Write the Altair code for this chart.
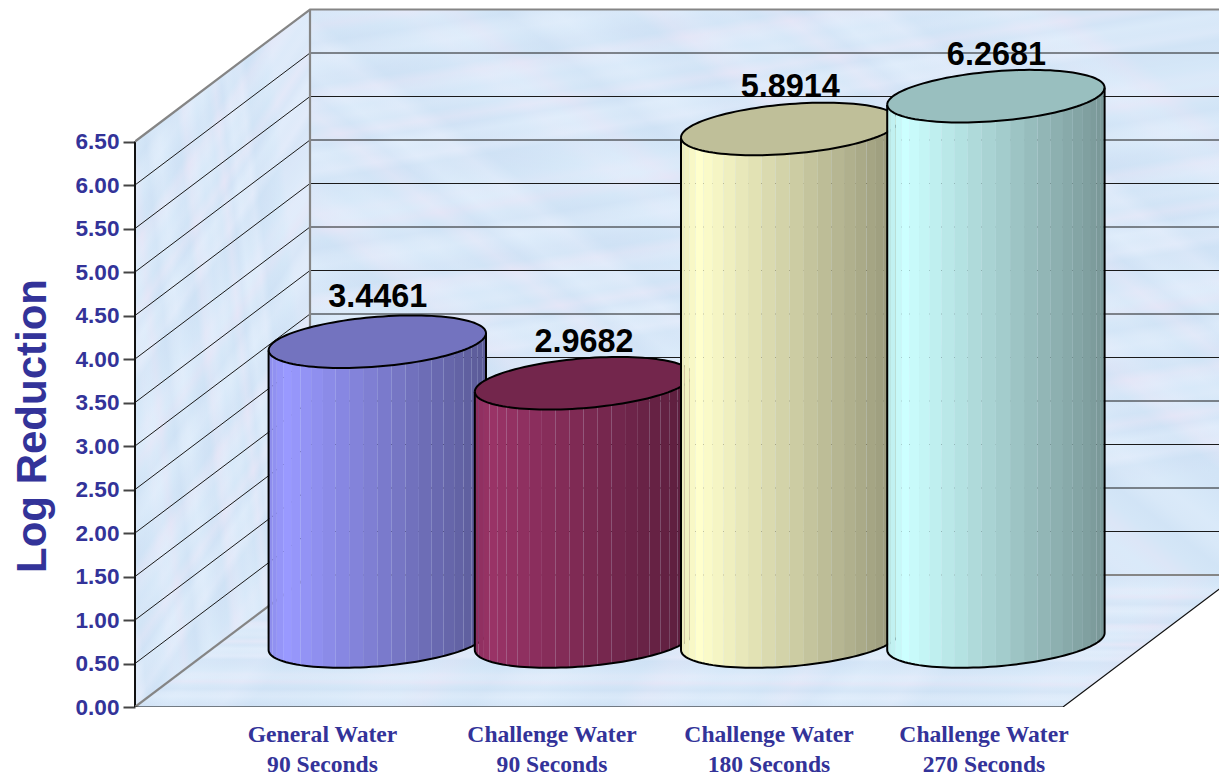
import math
import altair as alt
import pandas as pd

# ---- chart content ----
line1 = ["General Water", "Challenge Water", "Challenge Water", "Challenge Water"]
line2 = ["90 Seconds", "90 Seconds", "180 Seconds", "270 Seconds"]
values = [3.4461, 2.9682, 5.8914, 6.2681]
base_rgb = [(153, 153, 255), (153, 51, 102), (255, 255, 204), (204, 255, 255)]
ticks = [i * 0.5 for i in range(14)]

# ---- oblique 3-D projection, in scale units ----
PX = 87.0                 # pixels per value unit
W, H = 1084, 699
DX, DY = 175.0, 132.0 / PX  # depth of the box
FLOOR_W = 928.0
x_s = alt.Scale(domain=[0, W], nice=False, zero=False)
y_s = alt.Scale(domain=[0, H / PX], nice=False, zero=False)
INK = "#333399"
TEX = ["#d4e6f7", "#e2ebfa", "#d2e3f6", "#dceaf9", "#e4e6f7", "#d8e9f9", "#cfe2f5", "#e0edfb"]

CX0, CSTEP, A = 242.3, 206.2, 108.7
B, S = 24.9, 8.5
BASE = 65.5 / PX
LABEL_GAP = [34.3, 31.6, 32.0, 31.0]


def X():
    return alt.X("x:Q", scale=x_s, axis=None)


def Y():
    return alt.Y("y:Q", scale=y_s)


def rgb(c, f):
    return "#%02x%02x%02x" % tuple(min(255, round(v * f)) for v in c)


def shade(t):
    return 0.92 + t / 0.08 * 0.08 if t < 0.08 else 1.0 - (t - 0.08) / 0.92 * 0.41


def mottle(x1, y1, x2, y2, n, seed):
    """soft paper-like wall streaks"""
    stops = []
    for k in range(n + 1):
        c = TEX[(k * 5 + seed + (k * k) % 3) % len(TEX)]
        stops.append(alt.GradientStop(color=c, offset=k / n))
    return alt.Gradient(gradient="linear", x1=x1, y1=y1, x2=x2, y2=y2, stops=stops)


y_axis = alt.Axis(
    values=ticks, format=".2f", title="Log Reduction", domain=False, grid=False,
    tickSize=12, tickColor="#444444", tickWidth=2, labelPadding=4,
    labelFont="Liberation Sans", labelFontSize=22.6, labelFontWeight="bold", labelColor=INK,
    titleFont="Liberation Sans", titleFontSize=42, titleFontWeight="bold", titleColor=INK,
    titleX=-90, titleY=417.5, titleAngle=270, titleAlign="center", titleBaseline="alphabetic",
)

layers = []

# walls and floor
left = pd.DataFrame({"x": [0, DX], "y": [0, DY], "y2": [6.5, 6.5 + DY]})
back = pd.DataFrame({"x": [DX, W], "y": [DY, DY], "y2": [6.5 + DY, 6.5 + DY]})
floor = pd.DataFrame({"x": [0, DX, FLOOR_W, FLOOR_W + DX], "y": [0, 0, 0, DY], "y2": [0, DY, DY, DY]})
layers.append(alt.Chart(left).mark_area(color=mottle(0, 0.2, 0.3, 1, 46, 0), clip=True).encode(
    x=X(), y=alt.Y("y:Q", scale=y_s, axis=y_axis), y2="y2:Q"))
layers.append(alt.Chart(left).mark_area(color=mottle(0, 1, 1, 0.6, 30, 3), opacity=0.5, clip=True).encode(
    x=X(), y=Y(), y2="y2:Q"))
layers.append(alt.Chart(back).mark_area(color=mottle(0, 0, 0.25, 1, 70, 1), clip=True).encode(
    x=X(), y=Y(), y2="y2:Q"))
layers.append(alt.Chart(back).mark_area(color=mottle(0, 1, 1, 0.2, 60, 4), opacity=0.5, clip=True).encode(
    x=X(), y=Y(), y2="y2:Q"))
layers.append(alt.Chart(floor).mark_area(color=mottle(0.03, 0, 0, 1, 36, 2), clip=True).encode(
    x=X(), y=Y(), y2="y2:Q"))
layers.append(alt.Chart(floor).mark_area(color=mottle(0, 0, 1, 0.1, 40, 5), opacity=0.4, clip=True).encode(
    x=X(), y=Y(), y2="y2:Q"))

# left wall edge
axis_df = pd.DataFrame({"x": [0, 0], "y": [0, 6.5]})
layers.append(alt.Chart(axis_df).mark_line(color="#111111", strokeWidth=2).encode(x=X(), y=Y()))

# gridlines
grid = []
for v in ticks[1:-1]:
    grid += [dict(v=v, x=0, y=v), dict(v=v, x=DX, y=v + DY), dict(v=v, x=W, y=v + DY)]
layers.append(alt.Chart(pd.DataFrame(grid)).mark_line(color="#1a1a1a", strokeWidth=1, clip=True).encode(
    x=X(), y=Y(), detail="v:N"))

# heavy grey box edges
edges = [
    dict(k="a", o=0, x=0, y=6.5), dict(k="a", o=1, x=DX, y=6.5 + DY), dict(k="a", o=2, x=W, y=6.5 + DY),
    dict(k="b", o=0, x=DX, y=6.5 + DY), dict(k="b", o=1, x=DX, y=DY), dict(k="b", o=2, x=W, y=DY),
    dict(k="c", o=0, x=0, y=0), dict(k="c", o=1, x=DX, y=DY),
]
layers.append(alt.Chart(pd.DataFrame(edges)).mark_line(color="#858585", strokeWidth=2.2, clip=True).encode(
    x=X(), y=Y(), detail="k:N", order="o:Q"))
rim = [dict(o=0, x=0, y=0), dict(o=1, x=FLOOR_W, y=0), dict(o=2, x=FLOOR_W + DX, y=DY)]
layers.append(alt.Chart(pd.DataFrame(rim)).mark_line(color="#111111", strokeWidth=1.2, clip=True).encode(
    x=X(), y=Y(), order="o:Q"))

# cylinders
N = 24
for i, (val, col) in enumerate(zip(values, base_rgb)):
    cx = CX0 + CSTEP * i
    y_top, y_bot = BASE + val, BASE

    def front(th, level):
        return level - (S * math.cos(th) + B * math.sin(th)) / PX

    def xat(th):
        return cx - A * math.cos(th)

    # body facets
    rows = []
    for k in range(N):
        t0, t1 = math.pi * k / N, math.pi * (k + 1) / N
        f = rgb(col, shade((xat((t0 + t1) / 2) - (cx - A)) / (2 * A)))
        for t in (t0, t1):
            rows.append(dict(k=k, x=xat(t), y=front(t, y_top), y2=front(t, y_bot), fill=f))
    layers.append(alt.Chart(pd.DataFrame(rows)).mark_area().encode(
        x=X(), y=Y(), y2="y2:Q", color=alt.Color("fill:N", scale=None), detail="k:N"))

    # top cap
    m = 60
    cap = []
    for k in range(m + 1):
        t = math.pi * k / m
        mid = y_top - S * math.cos(t) / PX
        cap.append(dict(x=xat(t), y=mid + B * math.sin(t) / PX, y2=mid - B * math.sin(t) / PX))
    layers.append(alt.Chart(pd.DataFrame(cap)).mark_area(color=rgb(col, 0.75)).encode(x=X(), y=Y(), y2="y2:Q"))

    # outlines
    ring = []
    for k in range(2 * m + 1):
        t = math.pi * k / m
        ring.append(dict(o=k, x=xat(t), y=y_top - (S * math.cos(t) - B * math.sin(t)) / PX))
    layers.append(alt.Chart(pd.DataFrame(ring)).mark_line(color="black", strokeWidth=2).encode(
        x=X(), y=Y(), order="o:Q"))
    shell = [dict(o=-1, x=xat(0), y=front(0, y_top))]
    for k in range(m + 1):
        t = math.pi * k / m
        shell.append(dict(o=k, x=xat(t), y=front(t, y_bot)))
    shell.append(dict(o=m + 1, x=xat(math.pi), y=front(math.pi, y_top)))
    layers.append(alt.Chart(pd.DataFrame(shell)).mark_line(color="black", strokeWidth=2).encode(
        x=X(), y=Y(), order="o:Q"))

# value labels
lab = pd.DataFrame({
    "x": [CX0 + CSTEP * i + 0.5 for i in range(4)],
    "y": [BASE + v + g / PX for v, g in zip(values, LABEL_GAP)],
    "t": ["%.4f" % v for v in values],
})
layers.append(alt.Chart(lab).mark_text(
    font="Liberation Sans", fontSize=32.4, fontWeight="bold", color="black", baseline="alphabetic", align="center",
).encode(x=X(), y=Y(), text="t:N"))

# category labels
cat = pd.DataFrame({
    "x": [187.5, 417, 634, 849],
    "y": [-35 / PX] * 4,
    "t": [a + "\n" + b for a, b in zip(line1, line2)],
})
layers.append(alt.Chart(cat).mark_text(
    font="Liberation Serif", fontSize=23.6, fontWeight="bold", color=INK, baseline="alphabetic", align="center",
    lineBreak="\n", lineHeight=30,
).encode(x=X(), y=Y(), text="t:N"))

chart = alt.layer(*layers).properties(
    width=W, height=H,
    padding={"left": 127, "top": 0, "right": 0, "bottom": 72},
    autosize=alt.AutoSizeParams(type="none"),
    background="white",
).configure_view(strokeWidth=0)

chart.save("out.html", embed_options={"renderer": "svg", "actions": False})
